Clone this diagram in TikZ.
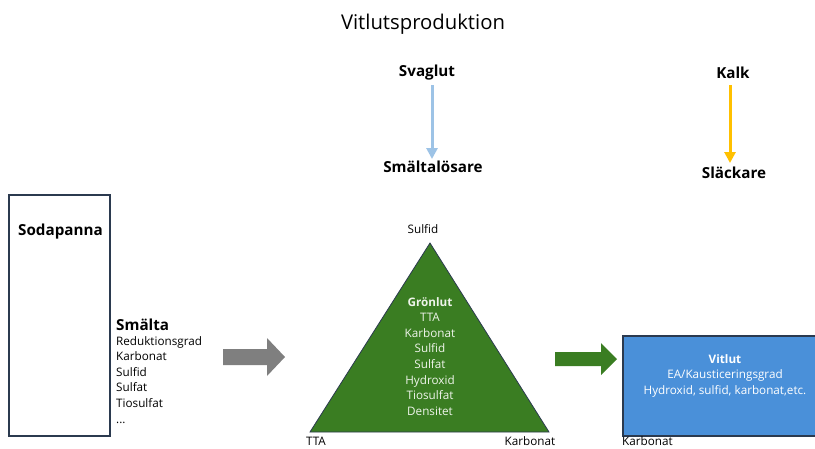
\documentclass[tikz,border=0pt]{standalone}
\usepackage{fontspec}
\setmainfont{Open Sans}
\usetikzlibrary{arrows.meta}
\definecolor{navy}{HTML}{2B3A4F}
\definecolor{trigreen}{HTML}{3A7D22}
\definecolor{lblue}{HTML}{9DC3E6}
\definecolor{gold}{HTML}{FFC000}
\definecolor{boxblue}{HTML}{4A90D9}
\definecolor{grayarrow}{HTML}{7F7F7F}
\definecolor{paletxt}{HTML}{EEF4EA}
\tikzset{
  head/.style={font=\fontsize{15.2}{18}\selectfont\bfseries, inner sep=0pt},
  small/.style={font=\fontsize{11.7}{15.6}\selectfont, inner sep=0pt},
  vert/.style={line width=3pt, -{Triangle[width=11pt,length=11pt]}},
}
\begin{document}
\begin{tikzpicture}[x=1pt,y=-1pt]
\useasboundingbox (0,0) rectangle (815,448);
% title
\node[inner sep=0pt, font=\fontsize{20.3}{24}\selectfont] (title) at (423,24) {Vitlutsproduktion};
% top inputs
\node[head] (svaglut) at (427,73) {Svaglut};
\node[head] (smalt) at (433,167) {Smältalösare};
\node[head] (kalk) at (733,73) {Kalk};
\node[head] (slack) at (734,173) {Släckare};
\coordinate (s1) at (432,85);
\coordinate (s2) at (432,159);
\coordinate (k1) at (730,85);
\coordinate (k2) at (730,163);
\draw[vert, lblue] (s1) -- (s2);
\draw[vert, gold] (k1) -- (k2);
% Sodapanna
\draw[navy, line width=1.3pt] (9,195) rectangle (110,436);
\node[head, anchor=west] (soda) at (18,232) {Sodapanna};
\node[head, anchor=west] (smalta) at (116,325) {Smälta};
\node[small, anchor=north west, align=left] (smlist) at (116,336)
  {Reduktionsgrad\\Karbonat\\Sulfid\\Sulfat\\Tiosulfat\\...};
% gray block arrow
\fill[grayarrow] (223,349) -- (267,349) -- (267,338) -- (285,357) -- (267,376) -- (267,365) -- (223,365) -- cycle;
% triangle
\draw[navy, line width=0.8pt, fill=trigreen] (430,243) -- (549,432) -- (310,432) -- cycle;
\node[small, text=paletxt, align=center, anchor=north] (gron) at (430,297)
  {\textbf{Grönlut}\\TTA\\Karbonat\\Sulfid\\Sulfat\\Hydroxid\\Tiosulfat\\Densitet};
\node[small] (sulfid) at (423,229) {Sulfid};
\node[small] (tta) at (316,441.5) {TTA};
\node[small] (karb1) at (530,441) {Karbonat};
% green block arrow
\fill[trigreen] (555,352) -- (601,352) -- (601,343) -- (617,359) -- (601,375) -- (601,366) -- (555,366) -- cycle;
% Vitlut box
\draw[navy, line width=1.3pt, fill=boxblue] (623,336) rectangle (830,436);
\node[small, text=white, align=center, anchor=north] (vitlut) at (725,354)
  {\textbf{Vitlut}\\EA/Kausticeringsgrad\\Hydroxid, sulfid, karbonat,etc.};
\node[small, anchor=west] (karb2) at (622,441) {Karbonat};
\end{tikzpicture}
\end{document}
